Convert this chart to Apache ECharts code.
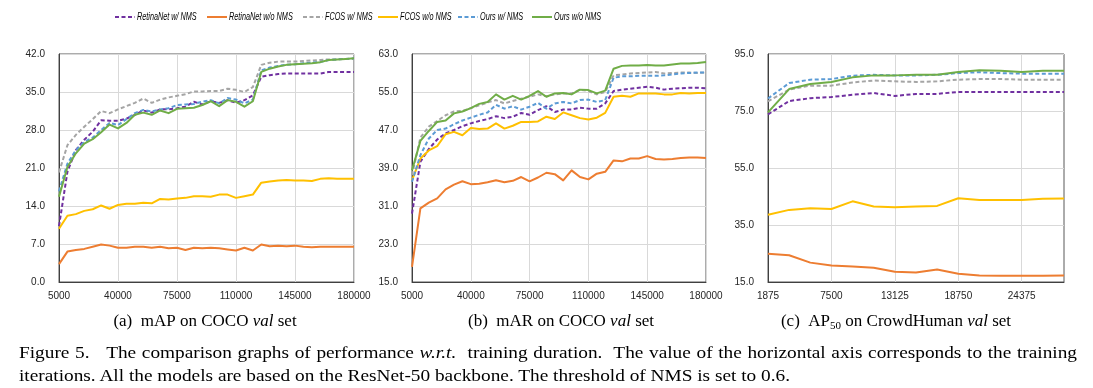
<!DOCTYPE html>
<html><head><meta charset="utf-8">
<script src="https://cdn.jsdelivr.net/npm/echarts@6/dist/echarts.min.js"></script>
<style>
html,body{margin:0;padding:0;background:#fff;width:1093px;height:388px;overflow:hidden;}
#chart{position:absolute;left:0;top:0;width:1093px;height:388px;}
.cap{position:absolute;left:19px;font-family:"Liberation Serif","Times New Roman",serif;font-size:17px;color:#000;transform-origin:0 0;line-height:20px;}
</style></head><body>
<div id="chart"></div>
<div id="cap1" class="cap" style="top:343px;text-align:justify;text-align-last:justify;">Figure 5.&nbsp;&nbsp; The comparison graphs of performance <i>w.r.t.</i>&nbsp; training duration.&nbsp; The value of the horizontal axis corresponds to the training</div>
<div id="cap2" class="cap" style="top:366px;white-space:nowrap;"><span id="cap2s">iterations. All the models are based on the ResNet-50 backbone. The threshold of NMS is set to 0.6.</span></div>
<script>
// ---------- categories ----------
const iterCOCO = [5000,10000,15000,20000,25000,30000,35000,40000,45000,50000,55000,60000,65000,70000,75000,80000,85000,90000,95000,100000,105000,110000,115000,120000,125000,130000,135000,140000,145000,150000,155000,160000,165000,170000,175000,180000];
const iterCrowd = [1875,3750,5625,7500,9375,11250,13125,15000,16875,18750,20625,22500,24375,26250,28125];
const seriesNames = ['RetinaNet w/ NMS','RetinaNet w/o NMS','FCOS w/ NMS','FCOS w/o NMS','Ours w/ NMS','Ours w/o NMS'];

// ---------- (a) mAP on COCO ----------
const mapRetinaNMS = [10.3,20.3,24.3,26.2,27.7,29.8,29.7,29.7,30.1,30.8,31.6,31.2,31.8,31.8,32.0,32.3,33.2,32.7,33.3,33.0,33.5,33.0,33.5,34.4,37.8,38.1,38.3,38.4,38.4,38.4,38.4,38.4,38.7,38.7,38.7,38.7];
const mapRetinaNoNMS = [3.3,5.6,5.9,6.1,6.5,6.9,6.7,6.3,6.3,6.5,6.5,6.3,6.5,6.2,6.3,5.9,6.3,6.2,6.3,6.2,6.0,5.8,6.3,5.8,6.9,6.6,6.7,6.6,6.7,6.5,6.4,6.5,6.5,6.5,6.5,6.5];
const mapFcosNMS = [20.2,25.2,27.1,28.6,30.0,31.5,31.1,31.8,32.4,33.0,33.8,33.0,33.6,34.0,34.3,34.6,35.1,35.1,35.2,35.2,35.6,35.4,35.0,35.9,40.0,40.4,40.6,40.6,40.6,40.7,40.8,40.9,41.0,41.0,41.1,41.1];
const mapFcosNoNMS = [9.8,12.2,12.5,13.1,13.4,14.1,13.5,14.2,14.4,14.4,14.6,14.5,15.3,15.2,15.4,15.5,15.8,15.8,15.7,16.1,16.1,15.5,15.8,16.1,18.3,18.5,18.7,18.8,18.7,18.7,18.6,19.0,19.1,19.0,19.0,19.0];
const mapOursNMS = [16.7,21.8,24.3,25.8,26.6,28.0,29.3,28.9,30.0,31.1,31.7,31.4,31.8,32.0,32.6,32.7,32.8,33.2,33.5,32.9,33.9,33.6,32.9,33.6,39.0,39.5,39.8,40.0,40.1,40.3,40.4,40.5,40.9,41.0,41.1,41.2];
const mapOursNoNMS = [15.7,21.2,23.7,25.5,26.3,27.6,29.0,28.3,29.3,30.8,31.2,30.8,31.6,31.1,31.9,32.0,32.1,32.6,33.3,32.4,33.5,33.2,32.3,33.3,38.7,39.3,39.7,40.0,40.1,40.2,40.3,40.5,40.9,41.0,41.1,41.2];

// ---------- (b) mAR on COCO ----------
const marRetinaNMS = [29.4,40.3,43.0,45.0,46.3,47.0,47.8,48.4,48.9,49.3,49.9,49.5,49.8,50.6,50.2,51.2,52.0,50.8,51.3,51.3,51.7,51.5,51.5,52.6,55.2,55.5,55.7,55.9,56.1,55.9,55.5,55.7,55.8,55.9,55.9,55.8];
const marRetinaNoNMS = [18.2,30.5,31.7,32.6,34.5,35.5,36.2,35.6,35.7,36.0,36.4,36.0,36.3,37.1,36.2,37.0,38.0,37.7,36.4,38.5,37.1,36.6,37.8,38.2,40.6,40.4,41.0,41.0,41.5,40.9,40.8,40.9,41.1,41.2,41.2,41.1];
const marFcosNMS = [37.5,45.4,47.7,48.9,50.1,50.9,51.0,51.6,52.2,52.8,53.3,52.6,53.1,53.6,54.0,54.5,54.1,54.5,54.7,54.7,55.5,55.2,54.5,55.0,58.5,58.7,58.9,59.0,59.1,59.2,58.9,59.0,59.1,59.1,59.0,59.1];
const marFcosNoNMS = [36.4,41.0,42.7,43.6,46.1,46.6,45.9,47.4,47.2,47.3,48.4,47.3,47.9,48.7,48.7,48.8,49.8,49.3,50.7,50.1,49.5,49.2,49.6,50.6,54.0,54.2,54.0,54.7,54.7,54.7,54.5,54.5,54.8,54.7,54.8,54.8];
const marOursNMS = [36.1,41.7,45.2,47.0,47.3,48.2,49.0,49.6,50.2,50.7,52.3,51.5,52.0,51.3,51.9,52.7,51.5,52.6,52.9,52.6,53.3,53.4,52.9,53.3,58.0,58.3,58.3,58.4,58.4,58.4,58.5,58.7,58.9,59.0,59.1,59.1];
const marOursNoNMS = [38.5,44.7,46.8,48.7,49.0,50.5,50.9,51.6,52.5,52.9,54.5,53.4,54.2,53.4,54.2,55.2,54.0,54.7,54.8,54.5,55.5,55.4,54.7,55.3,59.9,60.5,60.6,60.6,60.7,60.6,60.6,60.8,61.0,61.0,61.1,61.3];

// ---------- (c) AP50 on CrowdHuman ----------
const apRetinaNMS = [73.8,78.5,79.5,79.9,80.7,81.3,80.3,81.0,81.0,81.7,81.7,81.7,81.7,81.7,81.7];
const apRetinaNoNMS = [24.9,24.4,21.8,20.8,20.4,20.0,18.6,18.3,19.4,17.9,17.3,17.2,17.2,17.2,17.3];
const apFcosNMS = [78.4,82.5,83.9,83.9,85.0,85.7,85.4,85.2,85.4,86.0,86.2,86.2,86.0,86.0,86.0];
const apFcosNoNMS = [38.6,40.3,40.9,40.6,43.3,41.5,41.2,41.5,41.7,44.4,43.8,43.8,43.8,44.2,44.3];
const apOursNMS = [79.4,84.8,86.0,86.2,87.4,87.7,87.5,87.5,87.7,88.3,88.6,88.3,88.1,88.1,88.1];
const apOursNoNMS = [74.5,82.7,84.5,85.2,86.8,87.5,87.5,87.7,87.7,88.7,89.3,89.1,88.7,89.1,89.1];

// ---------- styles ----------
const colors = ['#7030A0','#ED7D31','#A5A5A5','#FFC000','#5B9BD5','#70AD47'];
const dashedFlags = [true,false,true,false,true,false];
const panels = [
  {cats: iterCOCO, labelEvery: 6, min: 0, max: 42, interval: 7, data: [mapRetinaNMS,mapRetinaNoNMS,mapFcosNMS,mapFcosNoNMS,mapOursNMS,mapOursNoNMS]},
  {cats: iterCOCO, labelEvery: 6, min: 15, max: 63, interval: 8, data: [marRetinaNMS,marRetinaNoNMS,marFcosNMS,marFcosNoNMS,marOursNMS,marOursNoNMS]},
  {cats: iterCrowd, labelEvery: 2, min: 15, max: 95, interval: 20, data: [apRetinaNMS,apRetinaNoNMS,apFcosNMS,apFcosNoNMS,apOursNMS,apOursNoNMS]}
];
const gridBoxes = [
  {left: 59, top: 54, width: 295, height: 228},
  {left: 412, top: 54, width: 294, height: 228},
  {left: 768, top: 54, width: 296, height: 228}
];
const tickFont = '"Liberation Sans", Arial, sans-serif';
const legendFont = '"Liberation Sans", Arial, sans-serif';
const legendIconX = [115, 207, 303, 378, 458, 532];

const grid = [], xAxis = [], yAxis = [], series = [];
panels.forEach((p, gi) => {
  grid.push(Object.assign({show: true, borderColor: '#595959', borderWidth: 1, backgroundColor: 'transparent', containLabel: false}, gridBoxes[gi]));
  xAxis.push({
    type: 'category', gridIndex: gi, data: p.cats, boundaryGap: false,
    axisLine: {show: true, lineStyle: {color: '#404040', width: 1}},
    axisTick: {show: false},
    axisLabel: {interval: p.labelEvery, color: '#262626', fontSize: 10, fontFamily: tickFont, margin: 9},
    splitLine: {show: true, interval: p.labelEvery, lineStyle: {color: '#D9D9D9', width: 1}}
  });
  yAxis.push({
    type: 'value', gridIndex: gi, min: p.min, max: p.max, interval: p.interval,
    axisLine: {show: true, lineStyle: {color: '#404040', width: 1}},
    axisTick: {show: false},
    axisLabel: {color: '#262626', fontSize: 10, fontFamily: tickFont, margin: 14, formatter: v => v.toFixed(1)},
    splitLine: {show: true, lineStyle: {color: '#D9D9D9', width: 1}}
  });
  p.data.forEach((d, si) => {
    series.push({
      name: seriesNames[si], type: 'line', xAxisIndex: gi, yAxisIndex: gi, data: d,
      symbol: 'none', showSymbol: false, smooth: false, animation: false, z: 2 + si,
      color: colors[si],
      lineStyle: {color: colors[si], width: 2, type: dashedFlags[si] ? [4, 2.5] : 'solid', cap: 'butt', join: 'round'}
    });
  });
});

const serif = '"Liberation Serif", "Times New Roman", serif';
const capRich = {
  n: {fontFamily: serif, fontSize: 17, color: '#000'},
  i: {fontFamily: serif, fontSize: 17, fontStyle: 'italic', color: '#000'},
  sub: {fontFamily: serif, fontSize: 11, color: '#000', padding: [9, 0, 0, 0]}
};
const subCaptions = [
  {x: 205, text: '{n|(a)  mAP on COCO }{i|val}{n| set}'},
  {x: 561, text: '{n|(b)  mAR on COCO }{i|val}{n| set}'},
  {x: 896, text: '{n|(c)  AP}{sub|50}{n| on CrowdHuman }{i|val}{n| set}'}
];

// legend drawn as graphic line + condensed italic text
const legendGraphics = [];
seriesNames.forEach((name, i) => {
  const x0 = legendIconX[i];
  legendGraphics.push({
    type: 'line', shape: {x1: x0, y1: 17, x2: x0 + 20, y2: 17},
    style: {stroke: colors[i], lineWidth: 2, lineDash: dashedFlags[i] ? [4, 2.5] : null}
  });
  legendGraphics.push({
    type: 'text', x: x0 + 22, y: 17, scaleX: 0.66,
    style: {text: name, fontFamily: legendFont, fontStyle: 'italic', fontSize: 11, fill: '#000', align: 'left', verticalAlign: 'middle'}
  });
});

const chart = echarts.init(document.getElementById('chart'), null, {renderer: 'canvas'});
chart.setOption({
  animation: false,
  backgroundColor: '#fff',
  grid, xAxis, yAxis, series,
  graphic: legendGraphics.concat(subCaptions.map(c => ({
    type: 'text', x: c.x, y: 322,
    style: {text: c.text, rich: capRich, align: 'center', verticalAlign: 'middle'}
  })))
});

// caption: line 1 justified across the page, line 2 natural
(function(){
  const s2 = document.getElementById('cap2s');
  const natural = s2.getBoundingClientRect().width;
  const s = 771 / natural;
  const c1 = document.getElementById('cap1');
  const c2 = document.getElementById('cap2');
  c1.style.width = (1058 / s) + 'px';
  c1.style.transform = 'scaleX(' + s + ')';
  c2.style.transform = 'scaleX(' + s + ')';
})();
</script>
</body></html>
